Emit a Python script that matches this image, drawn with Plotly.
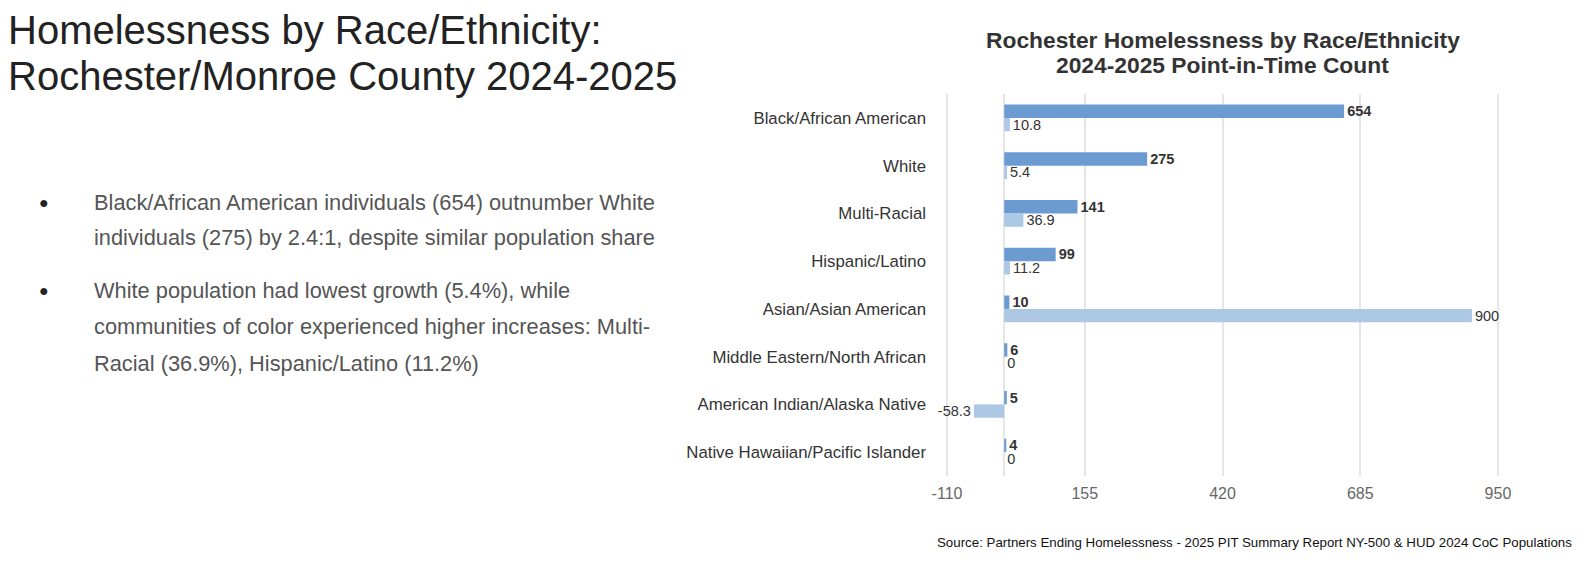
import plotly.graph_objects as go

categories = [
    "Black/African American",
    "White",
    "Multi-Racial",
    "Hispanic/Latino",
    "Asian/Asian American",
    "Middle Eastern/North African",
    "American Indian/Alaska Native",
    "Native Hawaiian/Pacific Islander",
]
count_2025 = [654, 275, 141, 99, 10, 6, 5, 4]
pct_change = [10.8, 5.4, 36.9, 11.2, 900, 0, -58.3, 0]
count_labels = ["654", "275", "141", "99", "10", "6", "5", "4"]
pct_labels = ["10.8", "5.4", "36.9", "11.2", "900", "0", "-58.3", "0"]
x_ticks = [-110, 155, 420, 685, 950]

W, H = 1584, 566
L, R, T, B = 946, 1499, 94, 476
FONT = "Liberation Sans, Arial, Helvetica, sans-serif"


def px(x):
    return (x - L) / (R - L)


def py(y):
    return (B - y) / (B - T)


fig = go.Figure()
fig.add_trace(go.Bar(
    y=categories, x=count_2025, orientation="h", name="Count",
    marker=dict(color="#6b9bd1", line=dict(width=0)),
    text=count_labels, textposition="outside", constraintext="none",
    textfont=dict(family=FONT, size=14.5, color="#333333", weight="bold"),
    cliponaxis=False, hoverinfo="x+y",
))
fig.add_trace(go.Bar(
    y=categories, x=pct_change, orientation="h", name="% Change",
    marker=dict(color="#adc8e5", line=dict(width=0)),
    text=pct_labels, textposition="outside", constraintext="none",
    textfont=dict(family=FONT, size=14.5, color="#333333"),
    cliponaxis=False, hoverinfo="x+y",
))

annotations = []
# Left title
for text, yc in [("Homelessness by Race/Ethnicity:", 30),
                 ("Rochester/Monroe County 2024-2025", 76)]:
    annotations.append(dict(text=text, x=px(6), y=py(yc), xref="paper", yref="paper",
                            xanchor="left", yanchor="middle", showarrow=False,
                            font=dict(family=FONT, size=40, color="#222222")))
# Bullets
bullet_lines = [
    ("Black/African American individuals (654) outnumber White", 202, True),
    ("individuals (275) by 2.4:1, despite similar population share", 238, False),
    ("White population had lowest growth (5.4%), while", 290, True),
    ("communities of color experienced higher increases: Multi-", 326, False),
    ("Racial (36.9%), Hispanic/Latino (11.2%)", 363, False),
]
for text, yc, bullet in bullet_lines:
    annotations.append(dict(text=text, x=px(92), y=py(yc), xref="paper", yref="paper",
                            xanchor="left", yanchor="middle", showarrow=False,
                            font=dict(family=FONT, size=21.8, color="#555555")))
    if bullet:
        annotations.append(dict(text="●", x=px(44), y=py(yc), xref="paper", yref="paper",
                                xanchor="center", yanchor="middle", showarrow=False,
                                font=dict(family=FONT, size=16, color="#222222")))
# Chart title
for text, yc in [("Rochester Homelessness by Race/Ethnicity", 40),
                 ("2024-2025 Point-in-Time Count", 65)]:
    annotations.append(dict(text=text, x=0.5, y=py(yc), xref="paper", yref="paper",
                            xanchor="center", yanchor="middle", showarrow=False,
                            font=dict(family=FONT, size=22.8, color="#333333", weight="bold")))
# Source
annotations.append(dict(
    text="Source: Partners Ending Homelessness - 2025 PIT Summary Report NY-500 & HUD 2024 CoC Populations",
    x=px(1574), y=py(542), xref="paper", yref="paper", xanchor="right", yanchor="middle",
    showarrow=False, font=dict(family=FONT, size=13.3, color="#111111")))

fig.update_layout(
    width=W, height=H,
    margin=dict(l=L, r=W - R, t=T, b=H - B, pad=0),
    barmode="group", bargap=0.44, bargroupgap=0,
    showlegend=False,
    paper_bgcolor="white", plot_bgcolor="white",
    font=dict(family=FONT, color="#333333"),
    xaxis=dict(range=[-112, 952], tickvals=x_ticks, ticktext=[str(v) for v in x_ticks],
               showgrid=True, gridcolor="#e6e6e6", gridwidth=2,
               zeroline=True, zerolinecolor="#e6e6e6", zerolinewidth=2,
               showline=False, ticks="", ticklabelstandoff=6,
               tickfont=dict(family=FONT, size=16, color="#666666")),
    yaxis=dict(categoryorder="array", categoryarray=categories, autorange="reversed",
               showgrid=False, zeroline=False, showline=False, ticks="",
               ticklabelstandoff=19,
               tickfont=dict(family=FONT, size=16.8, color="#333333")),
    annotations=annotations,
)

fig.write_html("out.html", config={"displayModeBar": False},
               post_script="document.body.style.margin='0px';")
